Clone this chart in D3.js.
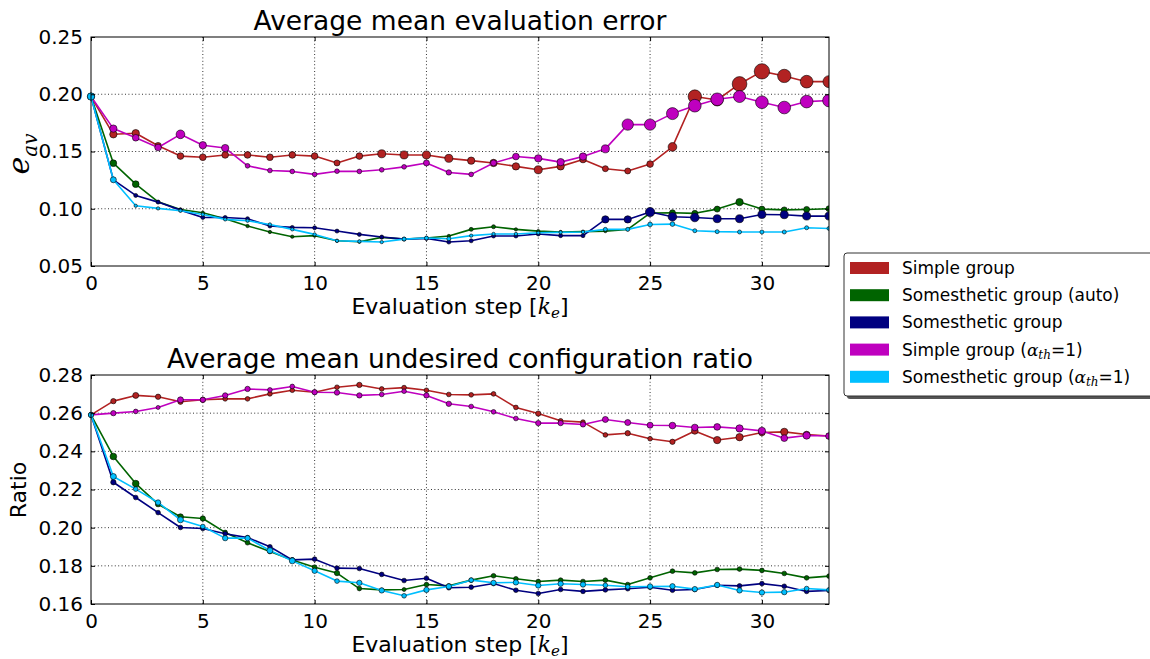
<!DOCTYPE html>
<html>
<head>
<meta charset="utf-8">
<script src="https://cdn.jsdelivr.net/npm/d3@7"></script>
<style>
  body { margin: 0; background: #fff; }
  svg { display: block; font-family: "DejaVu Sans", sans-serif; }
</style>
</head>
<body>
<svg id="chart" width="1150" height="659"></svg>
<script>
// Evaluation steps (x axis)
const steps = [0,1,2,3,4,5,6,7,8,9,10,11,12,13,14,15,16,17,18,19,20,21,22,23,24,25,26,27,28,29,30,31,32,33];

// Average mean evaluation error per group
const errSimple   = [0.198,0.165,0.166,0.155,0.146,0.145,0.147,0.147,0.145,0.147,0.146,0.140,0.146,0.148,0.147,0.147,0.144,0.142,0.140,0.137,0.134,0.137,0.143,0.135,0.133,0.139,0.154,0.198,0.195,0.209,0.220,0.216,0.211,0.211];
const errSomAuto  = [0.198,0.1398,0.1215,0.106,0.0994,0.0965,0.0913,0.0849,0.0797,0.0756,0.0765,0.072,0.0712,0.075,0.0735,0.0744,0.0762,0.082,0.0843,0.082,0.0805,0.0797,0.080,0.0805,0.082,0.0962,0.0965,0.096,0.0997,0.1058,0.0997,0.099,0.0994,0.100];
const errSom      = [0.198,0.1253,0.1116,0.1058,0.0988,0.0924,0.0924,0.0913,0.0849,0.0837,0.0834,0.0805,0.0776,0.0753,0.0735,0.0741,0.0709,0.072,0.0762,0.0762,0.078,0.0765,0.0765,0.0907,0.0907,0.0971,0.093,0.0924,0.0913,0.0913,0.095,0.0948,0.0936,0.0936];
const errSimpleA  = [0.198,0.170,0.162,0.1535,0.165,0.1555,0.153,0.1375,0.1334,0.1326,0.130,0.1328,0.1326,0.134,0.1366,0.140,0.1317,0.130,0.140,0.1456,0.144,0.1407,0.1456,0.1523,0.1735,0.1735,0.1831,0.190,0.1956,0.198,0.193,0.1884,0.1936,0.1945];
const errSomA     = [0.198,0.1253,0.1026,0.1003,0.0983,0.095,0.0907,0.0895,0.0863,0.082,0.0776,0.072,0.0715,0.0709,0.0735,0.0744,0.0738,0.0765,0.078,0.078,0.079,0.0794,0.0797,0.082,0.082,0.0863,0.0866,0.0808,0.080,0.0797,0.0797,0.0797,0.0834,0.0828];

// Spread of the evaluation error (sets marker size)
const errSimpleSpread  = [2.0,2.2,2.2,2.0,2.0,2.0,2.0,2.0,2.0,2.0,2.0,1.8,2.0,2.4,2.4,2.4,2.4,2.2,2.2,2.2,2.4,2.2,2.0,1.8,1.8,2.0,2.6,4.0,3.6,4.4,4.6,4.0,3.8,3.6];
const errSomAutoSpread = [2.0,2.0,2.0,1.0,1.0,1.0,1.0,1.0,1.0,1.0,1.0,1.0,1.0,1.0,1.0,1.0,1.0,1.2,1.2,1.0,1.0,1.0,1.0,1.0,1.0,1.6,1.8,1.8,1.8,2.2,1.8,1.8,1.8,1.8];
const errSomSpread     = [1.6,1.2,1.2,1.2,1.2,1.2,1.2,1.2,1.2,1.2,1.2,1.2,1.2,1.2,1.2,1.2,1.2,1.2,1.2,1.2,1.2,1.2,1.2,2.2,2.2,2.8,2.6,2.6,2.4,2.4,2.4,2.4,2.4,2.4];
const errSimpleASpread = [2.0,2.2,2.0,2.0,2.6,2.2,2.2,1.4,1.4,1.4,1.4,1.4,1.4,1.4,1.4,1.8,1.6,1.4,1.8,2.0,2.2,2.2,2.2,2.4,3.4,3.4,3.6,3.8,3.8,3.6,3.8,3.8,3.8,3.8];
const errSomASpread    = [2.2,1.8,1.0,1.0,1.0,1.0,1.0,1.0,1.0,1.0,1.0,1.0,1.0,1.0,1.2,1.2,1.2,1.0,1.0,1.0,1.0,1.0,1.0,1.2,1.2,1.4,1.4,1.2,1.2,1.2,1.2,1.2,1.2,1.2];

// Average mean undesired configuration ratio per group
const ratioSimple  = [0.2591,0.2663,0.2693,0.2686,0.266,0.267,0.2675,0.2675,0.2701,0.272,0.271,0.2736,0.2748,0.2727,0.2734,0.272,0.2698,0.2696,0.2701,0.263,0.2598,0.256,0.2553,0.2486,0.2495,0.2466,0.245,0.2507,0.2459,0.2474,0.2499,0.2502,0.2488,0.248];
const ratioSomAuto = [0.2591,0.2373,0.2231,0.2123,0.2057,0.2048,0.1975,0.1921,0.1875,0.1831,0.1793,0.1762,0.1681,0.1674,0.1676,0.1702,0.1695,0.1725,0.1748,0.1732,0.1718,0.1725,0.1718,0.1725,0.1702,0.1737,0.1772,0.1763,0.1781,0.1783,0.1776,0.176,0.1737,0.1746];
const ratioSom     = [0.2591,0.2238,0.2158,0.2079,0.2001,0.1996,0.1968,0.1948,0.19,0.1831,0.1835,0.1788,0.1786,0.1755,0.1723,0.1735,0.1685,0.1688,0.1707,0.1672,0.1655,0.1676,0.1666,0.1674,0.168,0.1688,0.1672,0.1676,0.1698,0.1695,0.1707,0.1693,0.1666,0.1671];
const ratioSimpleA = [0.2591,0.26,0.2609,0.263,0.267,0.267,0.2693,0.2727,0.2722,0.274,0.271,0.2708,0.2693,0.2698,0.2715,0.2693,0.2649,0.2635,0.2607,0.2572,0.2548,0.2548,0.2541,0.2567,0.2551,0.2537,0.2535,0.2525,0.2528,0.252,0.2507,0.2469,0.2483,0.248];
const ratioSomA    = [0.2591,0.2268,0.2202,0.2132,0.2041,0.2006,0.1945,0.1945,0.188,0.1826,0.1774,0.172,0.1711,0.1671,0.1643,0.1674,0.1692,0.1725,0.1711,0.1713,0.1697,0.1706,0.1702,0.1698,0.169,0.1692,0.1693,0.1678,0.17,0.1671,0.166,0.1662,0.1681,0.1674];

// Spread of the configuration ratio (sets marker size)
const ratioSimpleSpread  = [1.4,1.6,1.8,1.6,1.6,1.6,1.4,1.4,1.4,1.4,1.4,1.4,1.6,1.4,1.4,1.4,1.4,1.4,1.4,1.4,1.6,1.4,1.4,1.4,1.6,1.4,1.6,2.0,2.2,2.2,2.0,2.2,2.0,1.8];
const ratioSomAutoSpread = [1.4,2.0,2.0,1.6,1.8,1.6,1.4,1.4,1.4,1.4,1.4,1.6,1.4,1.2,1.2,1.4,1.4,1.4,1.4,1.4,1.4,1.4,1.4,1.4,1.4,1.4,1.4,1.4,1.4,1.4,1.4,1.4,1.4,1.4];
const ratioSomSpread     = [1.4,1.6,1.4,1.4,1.4,1.4,1.4,1.4,1.4,1.4,1.4,1.4,1.4,1.4,1.4,1.4,1.4,1.4,1.4,1.4,1.4,1.4,1.4,1.4,1.4,1.4,1.4,1.4,1.4,1.4,1.4,1.4,1.4,1.4];
const ratioSimpleASpread = [1.4,1.6,1.4,1.2,1.8,1.6,1.6,1.6,1.4,1.4,1.6,1.6,1.6,1.4,1.4,1.6,1.6,1.4,1.4,1.4,1.6,1.6,1.6,1.8,1.8,1.8,2.0,2.0,2.0,2.2,2.2,2.0,2.2,2.0];
const ratioSomASpread    = [1.6,1.8,1.4,1.6,1.8,1.4,1.6,1.6,1.8,1.8,1.6,1.4,1.6,1.6,1.4,1.6,1.6,1.4,1.6,1.6,1.6,1.6,1.6,1.4,1.4,1.6,1.6,1.6,1.6,1.6,1.6,1.6,1.4,1.4];

// Axis ticks
const xTicks = [0,5,10,15,20,25,30];
const errTicks = [0.05,0.10,0.15,0.20,0.25];
const ratioTicks = [0.16,0.18,0.20,0.22,0.24,0.26,0.28];

const groupNames = ["Simple group","Somesthetic group (auto)","Somesthetic group","Simple group (α_th=1)","Somesthetic group (α_th=1)"];
const groupColors = ["#b22222","#006400","#000080","#bf00bf","#00bfff"];

const svg = d3.select("#chart");
const plotLeft = 91, plotRight = 829;

const x = d3.scaleLinear().domain([0, 33]).range([plotLeft, plotRight]);
const rScale = d3.scaleLinear().domain([0, 1]).range([0, 1.667]);

function drawPanel(cfg) {
  const y = d3.scaleLinear().domain(cfg.yDomain).range([cfg.bottom, cfg.top]);
  const g = svg.append("g");

  // grid
  g.append("g").selectAll("line").data(xTicks.filter(t => t > 0)).join("line")
    .attr("x1", d => x(d)).attr("x2", d => x(d))
    .attr("y1", cfg.top).attr("y2", cfg.bottom)
    .attr("stroke", "#000").attr("stroke-width", 0.8).attr("stroke-dasharray", "1,2.4");
  g.append("g").selectAll("line").data(cfg.yTicks.slice(1, -1)).join("line")
    .attr("x1", plotLeft).attr("x2", plotRight)
    .attr("y1", d => y(d)).attr("y2", d => y(d))
    .attr("stroke", "#000").attr("stroke-width", 0.8).attr("stroke-dasharray", "1,2.4");

  // series
  const clip = "clip-" + cfg.id;
  svg.append("clipPath").attr("id", clip).append("rect")
    .attr("x", plotLeft - 10).attr("y", cfg.top - 10)
    .attr("width", plotRight - plotLeft + 10).attr("height", cfg.bottom - cfg.top + 20);
  const plot = g.append("g").attr("clip-path", `url(#${clip})`);
  cfg.series.forEach((s, k) => {
    const line = d3.line().x((d, i) => x(steps[i])).y(d => y(d));
    const sg = plot.append("g");
    sg.append("path").datum(s.values)
      .attr("d", line).attr("fill", "none")
      .attr("stroke", groupColors[k]).attr("stroke-width", 1.6).attr("stroke-linejoin", "round");
    sg.selectAll("circle").data(s.values).join("circle")
      .attr("cx", (d, i) => x(steps[i])).attr("cy", d => y(d))
      .attr("r", (d, i) => rScale(s.spread[i]))
      .attr("fill", groupColors[k]).attr("stroke", "#000").attr("stroke-width", 0.6);
  });

  // axes (ticks inside on all four sides)
  const xb = d3.axisBottom(x).tickValues(xTicks).tickSizeInner(-4).tickSizeOuter(0).tickPadding(10).tickFormat(d3.format("d"));
  const xt = d3.axisTop(x).tickValues(xTicks).tickSizeInner(-4).tickSizeOuter(0).tickFormat("");
  const yl = d3.axisLeft(y).tickValues(cfg.yTicks).tickSizeInner(-4).tickSizeOuter(0).tickPadding(8).tickFormat(d3.format(".2f"));
  const yr = d3.axisRight(y).tickValues(cfg.yTicks).tickSizeInner(-4).tickSizeOuter(0).tickFormat("");
  [[xb, `translate(0,${cfg.bottom})`], [xt, `translate(0,${cfg.top})`], [yl, `translate(${plotLeft},0)`], [yr, `translate(${plotRight},0)`]]
    .forEach(([ax, tr]) => {
      const a = g.append("g").attr("transform", tr).call(ax);
      a.select(".domain").remove();
      a.selectAll("line").attr("stroke", "#000").attr("stroke-width", 1);
      a.selectAll("text").attr("font-size", 20).attr("fill", "#000").attr("font-family", "DejaVu Sans");
    });
  g.append("rect").attr("x", plotLeft).attr("y", cfg.top).attr("width", plotRight - plotLeft).attr("height", cfg.bottom - cfg.top)
    .attr("fill", "none").attr("stroke", "#000").attr("stroke-width", 1);

  // title
  g.append("text").attr("x", (plotLeft + plotRight) / 2).attr("y", cfg.top - 7)
    .attr("text-anchor", "middle").attr("font-size", 26.5).text(cfg.title);

  // x label: Evaluation step [k_e]
  const xl = g.append("text").attr("x", (plotLeft + plotRight) / 2).attr("y", cfg.bottom + 48)
    .attr("text-anchor", "middle").attr("font-size", 22);
  xl.append("tspan").text("Evaluation step [");
  xl.append("tspan").attr("font-family", "DejaVu Serif").attr("font-style", "italic").text("k");
  xl.append("tspan").attr("font-family", "DejaVu Serif").attr("font-style", "italic").attr("font-size", 15).attr("dy", 4).text("e");
  xl.append("tspan").attr("dy", -4).text("]");

  return g;
}

const errPanel = drawPanel({
  id: "err", top: 37, bottom: 266, yDomain: [0.05, 0.25], yTicks: errTicks,
  title: "Average mean evaluation error",
  series: [
    { values: errSimple, spread: errSimpleSpread },
    { values: errSomAuto, spread: errSomAutoSpread },
    { values: errSom, spread: errSomSpread },
    { values: errSimpleA, spread: errSimpleASpread },
    { values: errSomA, spread: errSomASpread }
  ]
});
// y label e_av
const errYLabel = errPanel.append("text").attr("transform", "translate(29,154) rotate(-90)").attr("text-anchor", "middle")
  .attr("font-family", "DejaVu Serif").attr("font-style", "italic");
errYLabel.append("tspan").attr("font-size", 30).text("e");
errYLabel.append("tspan").attr("font-size", 20).attr("dy", 8).text("av");

const ratioPanel = drawPanel({
  id: "ratio", top: 375, bottom: 604, yDomain: [0.16, 0.28], yTicks: ratioTicks,
  title: "Average mean undesired configuration ratio",
  series: [
    { values: ratioSimple, spread: ratioSimpleSpread },
    { values: ratioSomAuto, spread: ratioSomAutoSpread },
    { values: ratioSom, spread: ratioSomSpread },
    { values: ratioSimpleA, spread: ratioSimpleASpread },
    { values: ratioSomA, spread: ratioSomASpread }
  ]
});
ratioPanel.append("text").attr("transform", "translate(26,490) rotate(-90)").attr("text-anchor", "middle")
  .attr("font-size", 22).text("Ratio");

// legend
const lg = svg.append("g").attr("transform", "translate(844,253)");
lg.append("rect").attr("x", 3).attr("y", 3).attr("width", 330).attr("height", 143).attr("rx", 3).attr("fill", "#555");
lg.append("rect").attr("x", 0).attr("y", 0).attr("width", 330).attr("height", 143).attr("rx", 3)
  .attr("fill", "#fff").attr("stroke", "#333").attr("stroke-width", 1);
groupNames.forEach((name, i) => {
  const cy = 15 + i * 27.2;
  lg.append("rect").attr("x", 6).attr("y", cy - 6).attr("width", 39).attr("height", 12).attr("fill", groupColors[i]);
  const t = lg.append("text").attr("x", 58).attr("y", cy + 6).attr("font-size", 17);
  const m = name.match(/^(.*)\(α_th=1\)$/);
  if (m) {
    t.append("tspan").text(m[1] + "(");
    t.append("tspan").attr("font-family", "DejaVu Serif").attr("font-style", "italic").text("α");
    t.append("tspan").attr("font-family", "DejaVu Serif").attr("font-style", "italic").attr("font-size", 12).attr("dy", 3).text("th");
    t.append("tspan").attr("dy", -3).text("=1)");
  } else {
    t.text(name);
  }
});
</script>
</body>
</html>
